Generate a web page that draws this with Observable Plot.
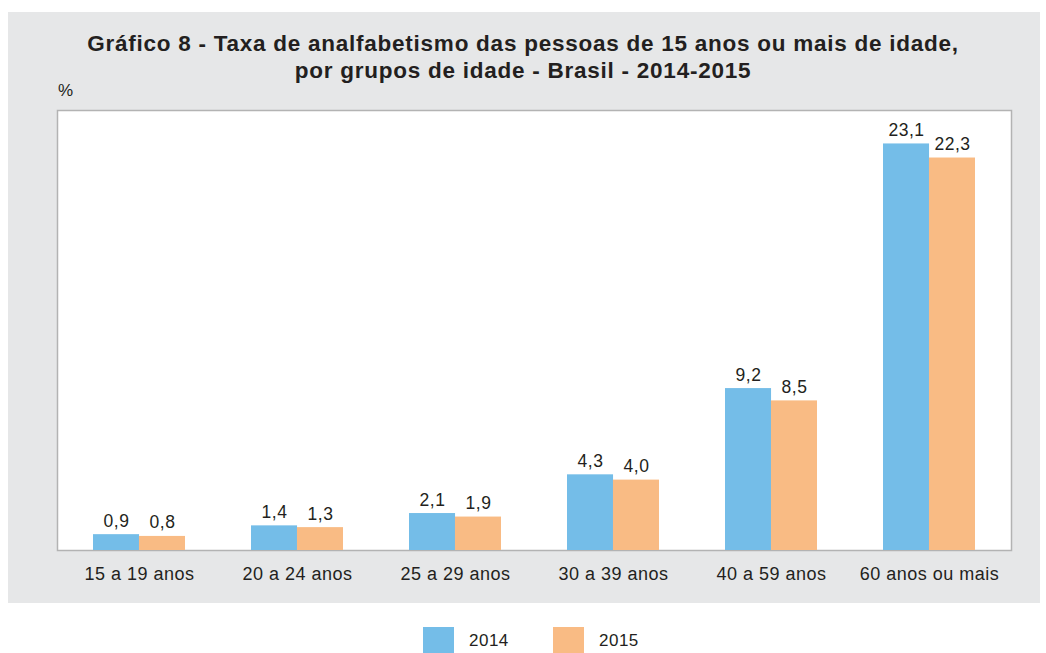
<!DOCTYPE html>
<html>
<head>
<meta charset="utf-8">
<script src="https://cdn.jsdelivr.net/npm/d3@7"></script>
<script src="https://cdn.jsdelivr.net/npm/@observablehq/plot@0.6"></script>
<style>
  html, body { margin: 0; padding: 0; background: #ffffff; }
  body { width: 1046px; height: 653px; position: relative; overflow: hidden; font-family: "Liberation Sans", Arial, sans-serif; color: #231f20; }
  #panel { position: absolute; left: 8px; top: 12px; width: 1032px; height: 591px; background: #e6e7e8; }
  #title { position: absolute; left: 0; top: 30px; width: 1046px; text-align: center; font-weight: bold; font-size: 22.5px; letter-spacing: 0.75px; line-height: 27px; color: #231f20; }
  #unit { position: absolute; left: 58px; top: 81px; font-size: 17px; color: #231f20; }
  #chart { position: absolute; left: 0; top: 0; }
  #chart svg text { letter-spacing: 0.5px; }
  #legend { position: absolute; top: 627px; left: 0; width: 1046px; height: 26px; font-size: 17px; letter-spacing: 0.5px; }
  .sw { position: absolute; top: 0; width: 31px; height: 26px; }
  .lt { position: absolute; top: 4px; }
</style>
</head>
<body>
<div id="panel"></div>
<div id="title">Gráfico 8 - Taxa de analfabetismo das pessoas de 15 anos ou mais de idade,<br>por grupos de idade - Brasil - 2014-2015</div>
<div id="unit">%</div>
<div id="chart"></div>
<div id="legend">
  <div class="sw" style="left:423px;background:#74bde8"></div><div class="lt" style="left:469px">2014</div>
  <div class="sw" style="left:553px;background:#f9bb84"></div><div class="lt" style="left:599px">2015</div>
</div>
<script>
const categories = ["15 a 19 anos", "20 a 24 anos", "25 a 29 anos", "30 a 39 anos", "40 a 59 anos", "60 anos ou mais"];
const values2014 = [0.9, 1.4, 2.1, 4.3, 9.2, 23.1];
const values2015 = [0.8, 1.3, 1.9, 4.0, 8.5, 22.3];
const seriesNames = ["2014", "2015"];
const colors = ["#74bde8", "#f9bb84"];

const d2014 = categories.map((c, i) => ({cat: c, v: values2014[i]}));
const d2015 = categories.map((c, i) => ({cat: c, v: values2015[i]}));
const fmt = v => d3.format(".1f")(v).replace(".", ",");

const W = 1046, H = 603;
const mL = 57, mR = 35, mT = 110, mB = 53;
const paddingInner = 0.42, paddingOuter = 0.22;
const step = (W - mL - mR) / (categories.length - paddingInner + 2 * paddingOuter);
const bw = step * (1 - paddingInner);
const half = bw / 2;

const plot = Plot.plot({
  width: W,
  height: H,
  marginLeft: mL,
  marginRight: mR,
  marginTop: mT,
  marginBottom: mB,
  style: {background: "transparent", fontFamily: "Liberation Sans, Arial, sans-serif", fontSize: "16px", color: "#231f20"},
  x: {domain: categories, paddingInner, paddingOuter, label: null, tickSize: 0, tickPadding: 17},
  y: {domain: [0, 25], axis: null},
  marks: [
    Plot.frame({fill: "#ffffff", stroke: "#b3b3b3", strokeWidth: 1.5}),
    Plot.barY(d2014, {x: "cat", y: "v", fill: colors[0], insetRight: half}),
    Plot.barY(d2015, {x: "cat", y: "v", fill: colors[1], insetLeft: half}),
    Plot.text(d2014, {x: "cat", y: "v", text: d => fmt(d.v), dx: -half / 2, dy: -8, lineAnchor: "bottom", fill: "#231f20", fontSize: 17.5}),
    Plot.text(d2015, {x: "cat", y: "v", text: d => fmt(d.v), dx: half / 2, dy: -8, lineAnchor: "bottom", fill: "#231f20", fontSize: 17.5}),
    Plot.axisX({tickSize: 0, tickPadding: 17, fontSize: 18, label: null, fill: "#231f20"})
  ]
});
document.getElementById("chart").appendChild(plot);
</script>
</body>
</html>
